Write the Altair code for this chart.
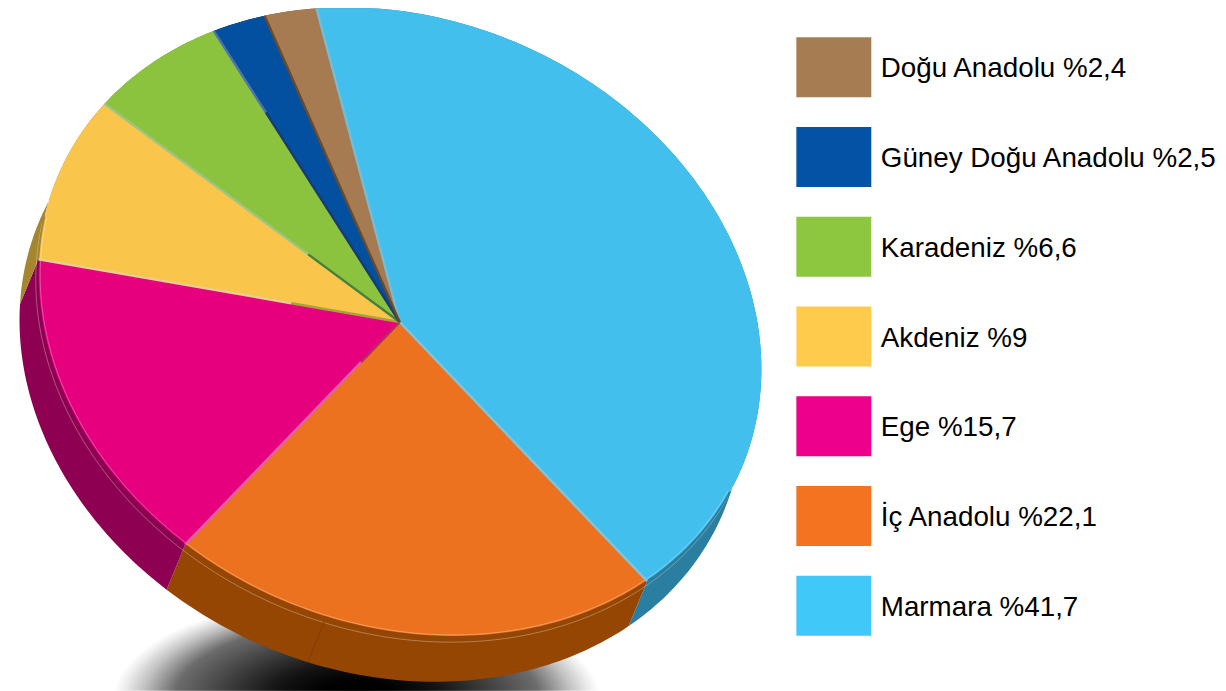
import numpy as np
import altair as alt

# ---- chart values -------------------------------------------------------
regions = ["Marmara", "İç Anadolu", "Ege", "Akdeniz", "Karadeniz", "Güney Doğu Anadolu", "Doğu Anadolu"]
shares = [41.7, 22.1, 15.7, 9.0, 6.6, 2.5, 2.4]
share_labels = ["%41,7", "%22,1", "%15,7", "%9", "%6,6", "%2,5", "%2,4"]
face_colors = ["#43BFEE", "#EC7220", "#E6007E", "#F9C54B", "#8BC33F", "#034FA0", "#A67B51"]
wall_colors = ["#2A7EA0", "#964603", "#8E0052", "#A5862E", "#5E8A2A", "#02366E", "#6F5236"]
legend_colors = ["#40C8F8", "#F47320", "#EC008C", "#FFCB4C", "#8DC63F", "#0352A5", "#A67C52"]
# edge bevels: outer colour, inner colour, fraction of the spoke that is inner
edge_outer = ["#79BBD3", "#7FC4DC", "#E060AC", "#E9CF8C", "#9CC584", "#4E74AB", "#6B4A2A"]
edge_inner = ["#79BBD3", "#7FC4DC", "#B52F63", "#A9A23C", "#44803F", "#1B3A72", "#6B4A2A"]
edge_split = [0.5, 0.5, 0.18, 0.30, 0.31, 0.72, 0.5]
# soft shadow: darkness at each relative radius
shadow_radius = [0.0, 0.3, 0.55, 0.75, 0.88, 1.0]
shadow_dark = [1.0, 0.9, 0.72, 0.55, 0.22, 0.0]

# ---- tilted disc geometry -----------------------------------------------
TILT = np.array([[361.1, 25.2], [25.2, 314.0]])
START_DEG = -9.3
DEPTH = np.array([-18.5, 45.0])
FRONT = (118.0, 285.0)  # part of the rim that faces the viewer
APEX = (400 - 8, 322 - 8)


def rim(a0, a1):
    t = np.radians(np.linspace(a0, a1, max(3, int(abs(a1 - a0) / 1.0) + 2)))
    return (TILT @ np.vstack([np.sin(t), -np.cos(t)])).T


def feature(kind, coords, color, opacity=1.0):
    return {"type": "Feature", "properties": {"color": color, "opacity": opacity},
            "geometry": {"type": kind, "coordinates": coords}}


def collection(features):
    return alt.Data(values={"type": "FeatureCollection", "features": features},
                    format=alt.DataFormat(property="features"))


edges = START_DEG + np.concatenate([[0], np.cumsum(shares)]) * 3.6
tops, walls, spokes, rims, glints, shines = [], [], [], [], [], []
for i in range(len(regions)):
    arc = rim(edges[i], edges[i + 1])
    tops.append(feature("Polygon", [[[0, 0]] + arc.tolist() + [[0, 0]]], face_colors[i]))
    low = arc + DEPTH
    ring = arc.tolist() + low[::-1].tolist() + [arc[0].tolist()]
    walls.append(feature("Polygon", [ring], wall_colors[i]))
    a0, a1 = max(edges[i], FRONT[0]), min(edges[i + 1], FRONT[1])
    if a1 > a0:
        front = rim(a0, a1)
        rims.append(feature("LineString", front.tolist(), wall_colors[i]))
        shines.append(feature("LineString", (front * 0.994).tolist(), "#FFFFFF"))
        glints.append(feature("LineString", (front + DEPTH * 0.12).tolist(), "#E9D9CC"))
    tip = rim(edges[i], edges[i])[0]
    mid = tip * edge_split[i]
    spokes.append(feature("LineString", [mid.tolist(), tip.tolist()], edge_outer[i]))
    spokes.append(feature("LineString", [[0, 0], mid.tolist()], edge_inner[i]))

# seam in the front wall
seam_t = edges[1] + 0.69 * (edges[2] - edges[1])
seam_top = rim(seam_t, seam_t)[0] + DEPTH * 0.1
seams = [feature("LineString", [seam_top.tolist(), (seam_top + DEPTH * 0.88).tolist()], "#7C3A05")]

# nested translucent ellipses build up the blurred shadow, outermost first
theta = np.radians(np.arange(0, 361, 4))
shadow = []
levels = np.linspace(1.0, 0.02, 110)
clear = np.clip(1 - np.interp(levels, shadow_radius, shadow_dark), 0.002, 1.0)
previous = 1.0
for s, c in zip(levels, clear):
    alpha = float(np.clip(1 - c / previous, 0, 1))
    previous = c
    ring = np.column_stack([-43 + 245 * s * np.cos(theta), 378 + 105 * s * np.sin(theta)]).tolist()
    if alpha > 0:
        shadow.append(feature("Polygon", [ring], "#000000", alpha))

color_field = alt.Color("properties.color:N", scale=None, legend=None)

pie = alt.layer(
    alt.Chart(collection(shadow)).mark_geoshape(stroke=None, clip=True).encode(
        color=color_field, opacity=alt.Opacity("properties.opacity:Q", scale=None, legend=None)),
    alt.Chart(collection(walls)).mark_geoshape(stroke=None, clip=True).encode(color=color_field),
    alt.Chart(collection(glints)).mark_geoshape(filled=False, strokeWidth=0.7, strokeOpacity=0.55, clip=True).encode(color=color_field),
    alt.Chart(collection(seams)).mark_geoshape(filled=False, strokeWidth=1, clip=True).encode(color=color_field),
    alt.Chart(collection(tops)).mark_geoshape(stroke=None, clip=True).encode(color=color_field),
    alt.Chart(collection(rims)).mark_geoshape(filled=False, strokeWidth=1.6, clip=True).encode(color=color_field),
    alt.Chart(collection(shines)).mark_geoshape(filled=False, strokeWidth=1, strokeOpacity=0.3, clip=True).encode(color=color_field),
    alt.Chart(collection(spokes)).mark_geoshape(filled=False, strokeWidth=2.4, clip=True).encode(color=color_field),
).project(type="identity", scale=1, translate=list(APEX)).properties(width=789, height=683)

# ---- legend -------------------------------------------------------------
legend_rows = [
    {"label": f"{r} {s}", "color": c}
    for r, s, c in zip(regions, share_labels, legend_colors)
][::-1]
legend_order = [row["label"] for row in legend_rows]
row_scale = alt.Y("label:N", sort=legend_order, axis=None,
                  scale=alt.Scale(range=[29, 628], paddingInner=0.332, paddingOuter=0))
legend_data = alt.Data(values=legend_rows)
swatches = alt.Chart(legend_data).mark_rect(width=75).encode(
    x=alt.value(37.5), y=row_scale, color=alt.Color("color:N", scale=None, legend=None))
labels = alt.Chart(legend_data).mark_text(
    align="left", baseline="middle", font="Liberation Sans", fontSize=27.8, color="#000000", dy=2
).encode(x=alt.value(84.5), y=row_scale, text="label:N")
legend = alt.layer(swatches, labels).properties(width=415, height=683)

chart = alt.hconcat(pie, legend, spacing=0).configure_view(stroke=None).properties(
    padding=0, background="#ffffff")

chart.save("out.html", embed_options={"renderer": "svg", "actions": False})
